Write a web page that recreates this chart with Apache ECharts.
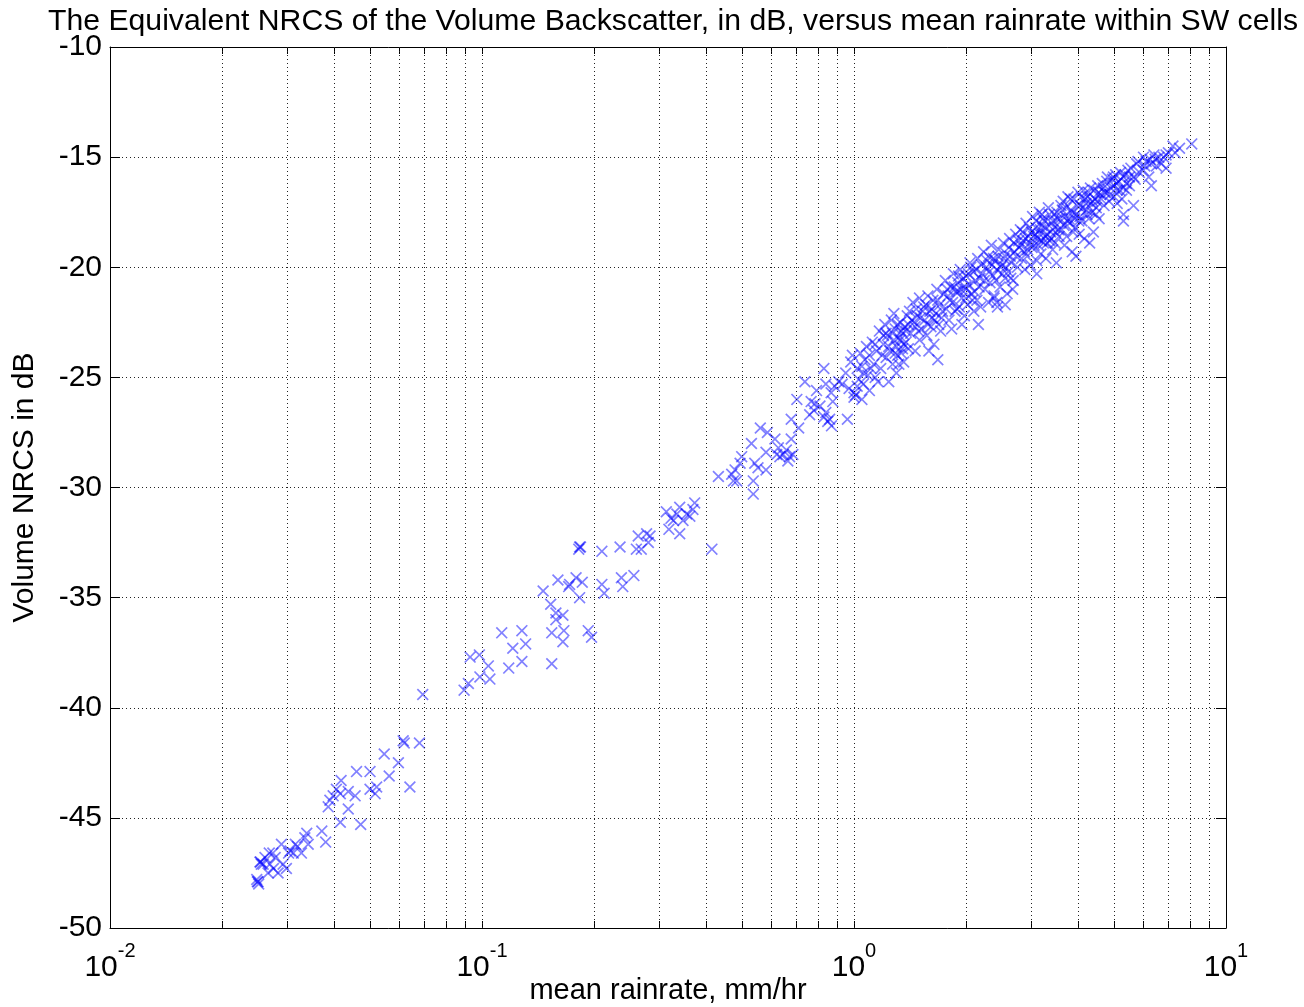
<!DOCTYPE html>
<html><head><meta charset="utf-8">
<script src="https://cdn.jsdelivr.net/npm/echarts@6/dist/echarts.min.js"></script>
<style>html,body{margin:0;padding:0;background:#fff}#c{width:1304px;height:1007px}</style>
</head><body><div id="c"></div>
<script>
// mean rainrate (mm/hr) of each SW cell
const rainrate = [
0.0693,0.0614,0.0618,0.0679,0.0546,0.0596,0.046,0.05,0.0563,0.064,0.0418,0.0521,0.050,0.0516,0.0406,0.0416,0.0437,0.0456,0.039,0.0398,
0.0386,0.0437,0.0416,0.0472,0.0371,0.038,0.0338,0.0334,0.0341,0.0315,0.0319,0.0289,0.0305,0.0302,0.0311,0.0327,0.0274,0.0278,0.0253,0.0255,
0.0258,0.0254,0.0269,0.0275,0.0292,0.0298,0.0283,0.0266,0.0248,0.025,0.0251,0.0249,0.0261,0.0268,
0.0895,0.0919,0.0929,0.0984,0.0987,0.104,0.105,0.113,0.118,0.121,0.128,0.128,0.131,0.146,0.153,0.154,0.154,0.158,0.158,0.160,
0.165,0.166,0.165,0.171,0.172,0.179,0.183,0.186,0.183,0.184,0.182,0.193,0.197,0.21,0.21,0.213,0.235,0.237,0.239,0.256,
0.263,0.26,0.268,0.277,0.28,0.283,0.313,0.322,0.327,0.34,0.334,0.355,0.362,0.373,0.369,0.347,0.318,0.34,0.415,
0.432,0.469,0.479,0.474,0.484,0.499,0.494,0.536,0.536,0.53,0.541,0.552,0.58,0.56,0.585,0.58,0.613,0.626,0.62,0.632,
0.645,0.658,0.671,0.664,0.685,0.678,0.678,0.71,0.702,0.738,0.76,0.78,0.785,0.793,0.767,0.81,0.83,0.84,0.86,0.87,
0.85,0.83,0.868,0.877,0.887,0.91,0.93,0.96,0.84,
0.95,0.97,0.98,1.0,1.0,1.01,1.02,1.03,1.04,1.05,1.06,1.07,1.08,1.09,1.1,1.1,1.12,1.13,1.14,1.15,1.16,1.05,0.99,
1.17,1.18,1.2,1.21,1.22,1.23,1.24,1.25,1.26,1.27,1.28,1.29,1.3,1.31,1.32,1.33,1.34,1.35,1.36,1.37,1.38,1.39,1.4,1.22,1.28,1.3,1.34,1.36,1.33,1.31,
1.41,1.42,1.44,1.45,1.46,1.48,1.5,1.5,1.52,1.54,1.55,1.57,1.58,1.6,1.61,1.63,1.64,1.66,1.67,1.69,1.7,1.72,1.74,1.46,1.53,1.62,1.68,1.59,
1.76,1.77,1.79,1.8,1.82,1.84,1.85,1.87,1.88,1.9,1.92,1.93,1.95,1.97,1.98,2.0,2.0,2.02,2.04,2.05,2.07,2.09,2.1,2.12,2.14,2.15,2.17,2.19,1.83,1.95,2.06,1.9,2.0,2.11,
2.21,2.23,2.25,2.27,2.3,2.32,2.34,2.36,2.38,2.4,2.42,2.45,2.47,2.5,2.52,2.55,2.57,2.6,2.62,2.65,2.67,2.7,2.72,2.75,2.78,2.3,2.43,2.58,2.68,2.35,2.5,2.63,2.16,2.55,2.38,2.42,
2.8,2.82,2.85,2.88,2.9,2.93,2.95,2.98,3.0,3.02,3.05,3.08,3.1,3.12,3.15,3.18,3.2,3.23,3.25,3.28,3.3,3.33,3.36,3.4,3.42,3.45,3.48,3.5,3.53,3.56,3.6,2.87,2.97,3.07,3.17,3.27,3.38,3.47,3.2,3.1,
3.62,3.65,3.68,3.7,3.73,3.76,3.8,3.83,3.86,3.9,3.93,3.96,4.0,4.03,4.06,4.1,4.13,4.16,4.2,4.24,4.28,4.32,4.36,4.4,4.44,4.48,4.52,4.56,4.6,3.75,3.88,4.05,4.22,4.38,4.5,3.95,4.3,
4.65,4.7,4.75,4.8,4.85,4.9,4.95,5.0,5.05,5.1,5.15,5.2,5.25,5.3,5.4,5.45,4.72,5.0,5.3,5.3,5.64,6.3,5.1,5.7,5.5,5.4,5.3,
5.55,5.65,5.75,5.85,6.0,6.1,6.2,6.3,6.5,6.7,6.9,6.9,7.0,7.2,7.5,8.09,6.4,6.6,6.0,
1.02,1.06,1.11,1.14,1.19,1.2,1.24,1.27,1.29,1.32,1.35,1.38,1.4,1.43,1.47,1.49,1.51,1.56,1.58,1.62,
1.65,1.68,1.71,1.73,1.78,1.81,1.86,1.89,1.91,1.94,1.99,2.03,2.08,2.13,2.18,2.2,2.24,2.28,2.31,2.37,
2.41,2.44,2.48,2.53,2.56,2.61,2.64,2.69,2.73,2.77,2.81,2.84,2.89,2.92,2.96,3.01,3.04,3.09,3.13,3.16,
3.19,3.22,3.26,3.31,3.35,3.39,3.43,3.46,3.51,3.55,3.58,3.63,3.67,3.72,3.78,3.82,3.87,3.92,3.98,4.02,
4.08,4.12,4.18,4.23,4.27,4.34,4.42,4.47,4.55,4.62,4.68,4.78,4.88,4.98,5.08,5.18,5.35,5.5,5.8,6.05,
6.25,6.45,6.8,7.3
];
// equivalent volume NRCS (dB) of each SW cell
const nrcs = [
-39.4,-41.5,-41.6,-41.6,-42.1,-42.5,-42.9,-42.9,-43.1,-43.6,-43.3,-43.6,-43.7,-43.9,-43.7,-43.9,-43.8,-44.0,-44.2,-44.0,
-44.5,-44.6,-45.2,-45.3,-45.6,-46.1,-45.7,-45.9,-46.2,-46.2,-46.3,-46.2,-46.5,-46.6,-46.6,-46.6,-46.6,-46.8,-47.0,-47.1,
-47.1,-47.0,-47.1,-47.3,-47.1,-47.3,-47.5,-47.5,-47.8,-47.9,-48.0,-47.9,-46.8,-46.6,
-39.2,-38.9,-37.7,-37.6,-38.6,-38.1,-38.7,-36.6,-38.2,-37.3,-36.5,-37.9,-37.1,-34.7,-35.3,-36.6,-38.0,-35.7,-36.0,-34.2,
-35.8,-36.5,-37.0,-34.5,-34.4,-34.1,-35.0,-34.3,-32.7,-32.7,-32.8,-36.5,-36.8,-32.9,-34.4,-34.8,-32.7,-34.1,-34.5,-34.0,
-32.2,-32.8,-32.8,-32.1,-32.5,-32.2,-31.1,-31.4,-31.5,-30.9,-31.2,-31.2,-31.3,-30.7,-31.0,-31.5,-31.9,-32.1,-32.8,
-29.5,-29.4,-29.2,-29.7,-29.7,-28.6,-28.9,-29.7,-30.3,-28.0,-28.9,-29.1,-29.2,-27.3,-27.5,-28.4,-27.8,-28.2,-28.5,-28.6,
-28.5,-28.3,-28.6,-28.8,-28.5,-27.8,-26.9,-27.3,-26.0,-25.2,-26.7,-26.5,-26.2,-25.6,-26.1,-26.3,-26.8,-26.6,-26.9,-27.2,
-27.0,-24.6,-25.7,-26.1,-25.4,-25.2,-25.3,-26.9,-25.3,
-24.8,-25.5,-24.3,-25.7,-25.9,-25.8,-24.6,-25.1,-23.9,-24.5,-25.3,-24.2,-23.6,-24.9,-24.0,-25.6,-23.4,-24.4,-25.0,-23.8,-25.2,-26.0,-24.0,
-22.9,-24.6,-23.5,-22.6,-24.1,-23.1,-25.2,-23.8,-22.4,-24.4,-23.3,-22.8,-23.6,-24.0,-23.2,-22.5,-23.9,-23.0,-24.3,-22.7,-23.4,-22.2,-23.7,-23.0,-22.1,-24.8,-22.9,-23.5,-23.3,-22.6,
-22.0,-23.0,-21.6,-22.5,-23.8,-22.2,-21.4,-23.3,-22.8,-21.8,-22.4,-23.1,-21.3,-22.0,-22.7,-21.5,-23.5,-22.1,-21.0,-22.6,-21.7,-22.3,-21.2,-22.7,-22.0,-22.3,-24.2,-23.8,
-20.6,-21.9,-21.3,-22.4,-20.9,-21.6,-20.3,-22.0,-21.1,-20.7,-21.8,-20.1,-21.4,-20.5,-22.2,-21.0,-20.4,-21.7,-20.8,-19.8,-21.2,-20.2,-22.0,-20.6,-21.5,-19.6,-20.9,-21.8,-22.8,-22.6,-20.0,-21.1,-21.4,-21.1,
-20.3,-19.3,-21.0,-20.0,-19.5,-20.7,-19.0,-20.4,-21.3,-19.7,-20.1,-19.2,-20.9,-19.9,-18.9,-20.5,-19.4,-20.2,-18.7,-19.8,-21.0,-19.3,-18.5,-20.0,-19.1,-21.6,-21.8,-21.2,-20.6,-19.9,-20.3,-19.5,-22.6,-21.7,-21.4,-21.6,
-18.3,-19.6,-18.8,-20.1,-18.0,-19.2,-18.6,-19.9,-18.4,-17.7,-19.0,-18.2,-20.3,-18.7,-17.5,-19.4,-18.1,-18.9,-17.9,-19.6,-18.5,-17.3,-18.8,-18.0,-19.2,-17.6,-18.4,-19.8,-17.8,-18.6,-17.2,-19.3,-18.9,-18.5,-18.3,-18.6,-18.4,-18.9,-17.6,-19.7,
-18.3,-17.0,-19.0,-17.7,-18.6,-16.8,-18.0,-17.4,-19.3,-16.9,-18.2,-17.6,-16.6,-18.5,-17.2,-17.9,-16.5,-18.7,-17.1,-16.8,-17.8,-16.4,-17.5,-18.4,-16.9,-17.3,-16.3,-17.8,-16.7,-17.9,-18.4,-17.7,-17.4,-17.0,-17.0,-19.5,-18.9,
-16.2,-17.2,-16.6,-15.9,-17.0,-16.4,-16.0,-16.8,-15.8,-16.5,-16.1,-15.7,-16.9,-15.9,-16.2,-15.6,-16.6,-16.3,-17.6,-17.9,-17.2,-16.3,-17.1,-16.0,-16.3,-16.5,-16.4,
-15.5,-15.9,-15.3,-15.7,-15.6,-15.2,-15.9,-15.3,-15.4,-15.3,-15.5,-14.9,-14.8,-14.5,-14.6,-14.4,-14.9,-15.0,-15.0,
-25.4,-24.8,-24.6,-23.5,-24.0,-23.1,-23.6,-23.0,-23.9,-24.4,-23.7,-22.9,-22.6,-22.4,-21.9,-22.9,-22.3,-21.7,-22.6,-21.9,
-22.4,-21.5,-22.9,-22.0,-21.0,-21.5,-20.9,-21.9,-20.4,-21.0,-20.9,-20.3,-21.5,-20.1,-20.5,-19.9,-20.6,-19.7,-20.2,-19.6,
-20.6,-19.5,-20.0,-19.6,-20.0,-19.1,-20.5,-18.9,-19.5,-18.8,-19.0,-18.4,-18.7,-19.5,-18.2,-19.1,-18.6,-17.9,-19.0,-18.5,
-18.8,-17.8,-18.2,-18.9,-17.6,-18.7,-17.9,-18.2,-17.5,-18.3,-17.8,-17.4,-18.1,-17.3,-17.8,-16.9,-17.5,-17.8,-17.2,-17.9,
-16.8,-17.3,-16.9,-17.6,-16.6,-17.1,-16.5,-17.6,-16.6,-16.9,-16.4,-16.1,-16.7,-15.9,-16.2,-16.5,-15.8,-15.9,-15.2,-15.4,
-15.1,-15.1,-15.0,-14.8
];
const xMajorTicks = [0.01, 0.1, 1, 10];
const xMinorTicks = [0.02,0.03,0.04,0.05,0.06,0.07,0.08,0.09,0.2,0.3,0.4,0.5,0.6,0.7,0.8,0.9,2,3,4,5,6,7,8,9];
const yTicks = [-50,-45,-40,-35,-30,-25,-20,-15,-10];

const allXTicks = xMajorTicks.concat(xMinorTicks).sort((a,b)=>a-b);
const points = rainrate.map((r,i)=>[r, nrcs[i]]);
const FONT = '"Liberation Sans", Arial, Helvetica, sans-serif';
const crossPath = 'path://M0,1L1,0L5,4L9,0L10,1L6,5L10,9L9,10L5,6L1,10L0,9L4,5Z';

const chart = echarts.init(document.getElementById('c'), null, {renderer:'canvas'});
const xBase = {
  type:'log', logBase:10, min:0.01, max:10,
  axisLine:{show:true, onZero:false, lineStyle:{color:'#000', width:1}},
  splitLine:{show:false}, minorTick:{show:false}, minorSplitLine:{show:false}
};
chart.setOption({
  animation:false,
  backgroundColor:'#fff',
  title:{
    text:'The Equivalent NRCS of the Volume Backscatter, in dB, versus mean rainrate within SW cells',
    left:668, textAlign:'center', top:2,
    textStyle:{fontFamily:FONT, fontSize:30.2, fontWeight:'normal', color:'#000'}
  },
  grid:{left:110, right:78, top:47, bottom:79, containLabel:false, outerBoundsMode:'none'},
  xAxis:[
    Object.assign({}, xBase, {
      position:'bottom',
      name:'mean rainrate, mm/hr', nameLocation:'middle', nameGap:48, nameMoveOverlap:false,
      nameTextStyle:{fontFamily:FONT, fontSize:29, color:'#000'},
      axisTick:{show:true, inside:true, length:7, customValues:allXTicks, lineStyle:{color:'#000'}},
      axisLabel:{
        show:true, margin:13, customValues:xMajorTicks,
        formatter:(v)=>'{b|10}{s|'+Math.round(Math.log10(v))+'}',
        rich:{
          b:{fontFamily:FONT, fontSize:30, color:'#000', verticalAlign:'bottom', lineHeight:42},
          s:{fontFamily:FONT, fontSize:20, color:'#000', verticalAlign:'top', lineHeight:42}
        }
      }
    }),
    Object.assign({}, xBase, {
      position:'top',
      axisTick:{show:true, inside:true, length:7, customValues:allXTicks, lineStyle:{color:'#000'}},
      axisLabel:{show:false}
    })
  ],
  yAxis:[
    {
      type:'value', min:-50, max:-10, interval:5, position:'left',
      name:'Volume NRCS in dB', nameLocation:'middle', nameGap:70, nameMoveOverlap:false,
      nameTextStyle:{fontFamily:FONT, fontSize:30, color:'#000'},
      axisLine:{show:true, onZero:false, lineStyle:{color:'#000'}},
      axisTick:{show:true, inside:true, length:10, lineStyle:{color:'#000'}},
      axisLabel:{fontFamily:FONT, fontSize:30, color:'#000', margin:8},
      splitLine:{show:true, lineStyle:{color:'#222', type:[1,3], width:1}}
    },
    {
      type:'value', min:-50, max:-10, interval:5, position:'right',
      axisLine:{show:true, onZero:false, lineStyle:{color:'#000'}},
      axisTick:{show:true, inside:true, length:10, lineStyle:{color:'#000'}},
      axisLabel:{show:false}, splitLine:{show:false}
    }
  ],
  series:[
    {
      type:'scatter', xAxisIndex:0, yAxisIndex:0,
      data:points, symbol:crossPath, symbolSize:12,
      itemStyle:{color:'rgba(0,0,255,0.62)', borderWidth:0},
      silent:true, z:3,
      markLine:{
        silent:true, symbol:['none','none'], animation:false,
        label:{show:false},
        lineStyle:{color:'#222', type:[1,3], width:1},
        data:allXTicks.filter(v=>v>0.01 && v<10).map(v=>({xAxis:v}))
      }
    }
  ]
});
</script></body></html>
